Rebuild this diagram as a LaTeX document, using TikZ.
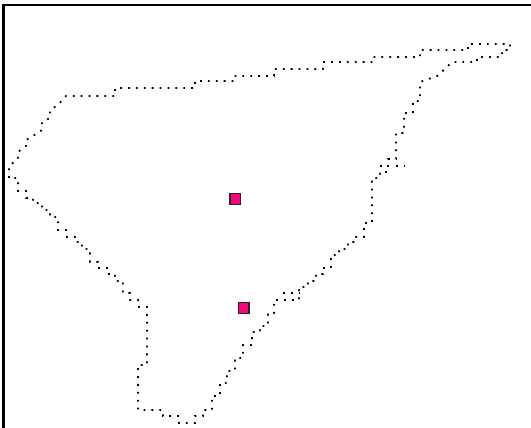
\documentclass[tikz,border=0pt]{standalone}
\definecolor{marker}{RGB}{255,0,128}
\tikzset{
  outline/.style={line width=1.8pt, dash pattern=on 1.8pt off 6.1pt, black},
  frameline/.style={black, line width=2.4pt},
  markerbox/.style={draw=black!85, line width=1.2pt, fill=marker, minimum size=10.5pt, inner sep=0pt, rectangle}
}
\begin{document}
\begin{tikzpicture}[x=1pt,y=-1pt]
\useasboundingbox (0,0) rectangle (531,428);
% frame
\coordinate (fbl) at (3.5,428);
\coordinate (ftl) at (3.5,4.8);
\coordinate (ftr) at (531,4.8);
\draw[frameline] (fbl) -- (ftl);
\draw[black, line width=1.6pt] (2.4,4.8) -- (ftr);
% island outline
\draw[outline] (9,178) -- (9,166) -- (18,159) -- (18,152) -- (26,146) -- (26,140) -- (33,136) -- (42,130) -- (42,122) -- (50,118) -- (50,110) -- (58,105) -- (66,96)
 -- (115,96) -- (115,88) -- (195,88) -- (195,81) -- (234,81) -- (234,76) -- (274,76) -- (274,69) -- (323,69) -- (323,62) -- (373,62) -- (373,57) -- (420,57) -- (420,50) -- (468,50) -- (468,44) -- (510,44) -- (510,50) -- (502,50) -- (502,57) -- (477,57) -- (477,62) -- (452,62) -- (445,69) -- (437,76) -- (420,82)
 -- (420,101) -- (413,101) -- (413,113) -- (404,113) -- (404,133) -- (396,133) -- (396,159) -- (388,159) -- (388,172) -- (380,172) -- (380,178) -- (372,178)
 -- (372,223) -- (364,223) -- (364,237) -- (356,237) -- (356,242) -- (348,242) -- (348,249) -- (339,249) -- (339,255) -- (331,255) -- (331,268) -- (323,268) -- (323,274) -- (316,274) -- (316,281) -- (308,281) -- (308,287) -- (299,287) -- (299,300) -- (274,300)
 -- (274,313) -- (268,313) -- (268,326) -- (260,326) -- (260,332) -- (252,332) -- (252,345) -- (243,345) -- (243,358) -- (235,358) -- (235,371) -- (227,371) -- (227,383) -- (220,383) -- (220,396) -- (212,396) -- (212,410) -- (203,410) -- (203,416) -- (195,416) -- (195,423) -- (179,423) -- (179,416) -- (163,416) -- (163,410) -- (138,410)
 -- (138,365) -- (147,365) -- (147,307) -- (138,307) -- (138,300) -- (130,300) -- (130,293) -- (123,293) -- (123,281) -- (115,281) -- (115,274) -- (107,274) -- (107,268) -- (98,268) -- (98,262) -- (90,262) -- (90,249) -- (82,249) -- (82,242) -- (75,242) -- (75,237) -- (67,237) -- (67,230) -- (58,230) -- (58,217) -- (50,217) -- (50,210) -- (42,210) -- (42,203) -- (33,203) -- (33,198) -- (26,198) -- (26,191) -- (18,191) -- (18,178) -- cycle;
\draw[outline] (396,166) -- (404,166);
\draw[outline] (380,166) -- (388,166);
\draw[outline] (283,293) -- (299,293);
% markers
\node[markerbox] (m1) at (235.3,199) {};
\node[markerbox] (m2) at (243.8,308) {};
\end{tikzpicture}
\end{document}
